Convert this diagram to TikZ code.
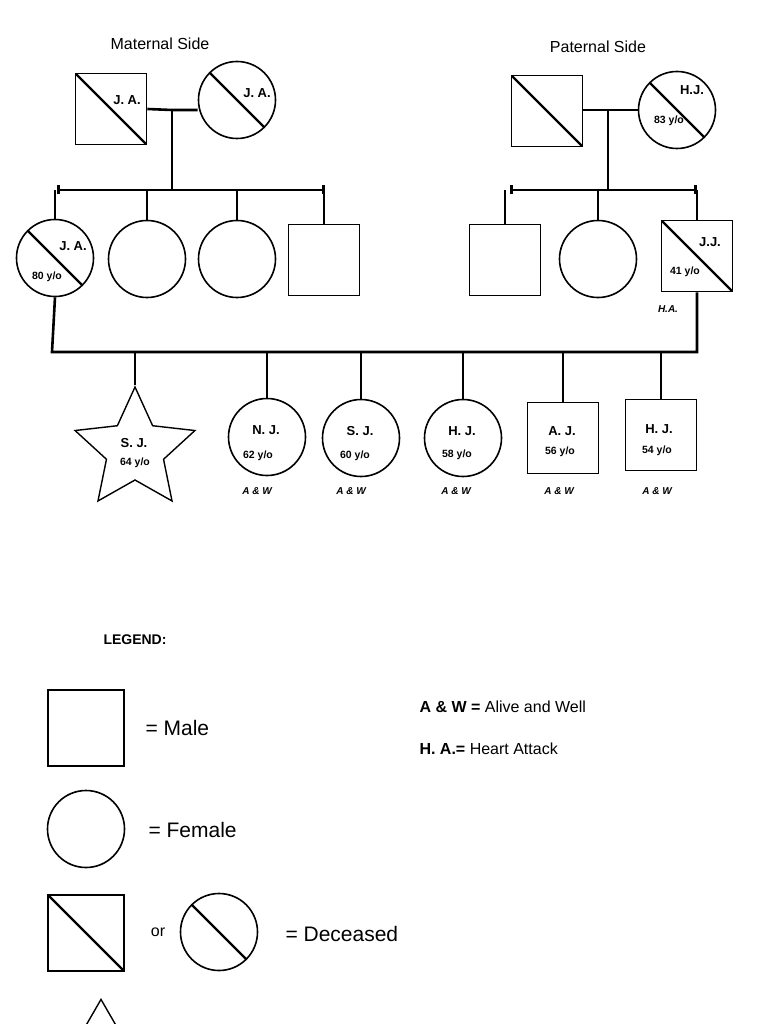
\documentclass[tikz,border=0pt]{standalone}
\usepackage{fontspec}
\setmainfont{Liberation Sans}
\usetikzlibrary{shapes.geometric,arrows.meta,positioning}

\begin{document}
\begin{tikzpicture}[x=1pt,y=-1pt,
    male/.style={draw,line width=1.6pt,minimum size=71pt,inner sep=0pt},
    female/.style={draw,circle,line width=1.6pt,minimum size=77pt,inner sep=0pt},
    dead/.style={path picture={\draw[line width=2.4pt] (path picture bounding box.north west) -- (path picture bounding box.south east);}},
    link/.style={line width=2.6pt},
    sib/.style={line width=2.6pt,{Bar[width=9pt]}-{Bar[width=9pt]}},
    nm/.style={font=\bfseries\fontsize{13}{13}\selectfont},
    age/.style={font=\bfseries\fontsize{10.5}{11}\selectfont},
    aw/.style={font=\bfseries\itshape\fontsize{10}{10}\selectfont}]
    \useasboundingbox (0,0) rectangle (768,1024);

    % maternal side
    \node[font=\fontsize{16}{16}\selectfont] (mlab) at (160,44) {Maternal Side};
    \node[male,dead]     (mf)  at (111,109) {};
    \node[female,dead]   (mm)  at (237,100) {};
    \node[nm] at (127,100) {J. A.};
    \node[nm] at (257,93)  {J. A.};
    \coordinate (mc) at (172,110);
    \coordinate (ms) at (172,190);
    \draw[link] (mf.east) -- (mc) -- (mm.west |- mc);
    \draw[link] (mc) -- (ms);
    \draw[sib] (57,190) -- (325,190);

    \node[female,dead]   (ja)  at (55,258)  {};
    \node[female]        (mb)  at (147,259) {};
    \node[female]        (mcc) at (237,259) {};
    \node[male]          (md)  at (324,260) {};
    \node[nm]  at (73,246)  {J. A.};
    \node[age] at (47,277)  {80 y/o};
    \foreach \n in {ja,mb,mcc,md}
      \draw[link] (\n.north) -- (\n.north |- ms);

    % paternal side
    \node[font=\fontsize{16}{16}\selectfont] (plab) at (598,47) {Paternal Side};
    \node[male,dead]     (pf)  at (547,111) {};
    \node[female,dead]   (pm)  at (677,110) {};
    \node[nm]  at (692,90)  {H.J.};
    \node[age] at (669,121) {83 y/o};
    \coordinate (pc) at (608,110);
    \coordinate (ps) at (608,190);
    \draw[link] (pf.east |- pc) -- (pm.west);
    \draw[link] (pc) -- (ps);
    \draw[sib] (510,190) -- (697,190);

    \node[male]          (pa)  at (505,260) {};
    \node[female]        (pb)  at (598,259) {};
    \node[male,dead]     (jj)  at (697,256) {};
    \node[nm]  at (710,242) {J.J.};
    \node[age] at (685,272) {41 y/o};
    \node[aw]  at (668,309) {H.A.};
    \foreach \n in {pa,pb,jj}
      \draw[link] (\n.north) -- (\n.north |- ps);

    % children
    \coordinate (kl) at (52,352);
    \coordinate (kr) at (697,352);
    \draw[link] (ja.south) -- (kl) -- (kr) -- (jj.south);

    \node[draw,star,star points=5,star point ratio=2.1,minimum size=126pt,
          line width=1.4pt,inner sep=0pt] (sj) at (135,450) {};
    \node[female]        (nj)  at (267,437) {};
    \node[female]        (sj2) at (361,438) {};
    \node[female]        (hj)  at (463,438) {};
    \node[male]          (aj)  at (563,438) {};
    \node[male]          (hj2) at (661,435) {};
    \foreach \n in {sj,nj,sj2,hj,aj,hj2}
      \draw[link] (\n.north) -- (\n.north |- kl);

    \node[nm]  at (134,443) {S. J.};  \node[age] at (135,463) {64 y/o};
    \node[nm]  at (266,430) {N. J.};  \node[age] at (258,456) {62 y/o};
    \node[nm]  at (360,431) {S. J.};  \node[age] at (355,456) {60 y/o};
    \node[nm]  at (462,431) {H. J.};  \node[age] at (457,455) {58 y/o};
    \node[nm]  at (562,431) {A. J.};  \node[age] at (560,452) {56 y/o};
    \node[nm]  at (659,429) {H. J.};  \node[age] at (657,451) {54 y/o};
    \foreach \x in {257,351,456,559,657}
      \node[aw] at (\x,491) {A \& W};

    % legend
    \node[font=\bfseries\fontsize{14}{14}\selectfont] (leg) at (135,640) {LEGEND:};
    \node[male,minimum size=76pt]        (lm) at (86,728) {};
    \node[female]                        (lf) at (86,829) {};
    \node[male,dead,minimum size=76pt]   (ld) at (86,933) {};
    \node[female,dead]                   (lc) at (219,932) {};
    \node[font=\fontsize{21}{21}\selectfont,anchor=west] at (142,728) {= Male};
    \node[font=\fontsize{21}{21}\selectfont,anchor=west] at (145,830) {= Female};
    \node[font=\fontsize{16}{16}\selectfont] at (158,932) {or};
    \node[font=\fontsize{21}{21}\selectfont,anchor=west] at (282,934) {= Deceased};
    \node[font=\fontsize{16}{16}\selectfont,anchor=west] at (416,707) {\textbf{A \& W =} Alive and Well};
    \node[font=\fontsize{16}{16}\selectfont,anchor=west] at (416,749) {\textbf{H. A.=} Heart Attack};
    \node[draw,isosceles triangle,isosceles triangle apex angle=60,shape border rotate=90,
          line width=1.4pt,minimum size=70pt,inner sep=0pt,anchor=apex] (lt) at (101,998) {};
  \end{tikzpicture}
\end{document}
